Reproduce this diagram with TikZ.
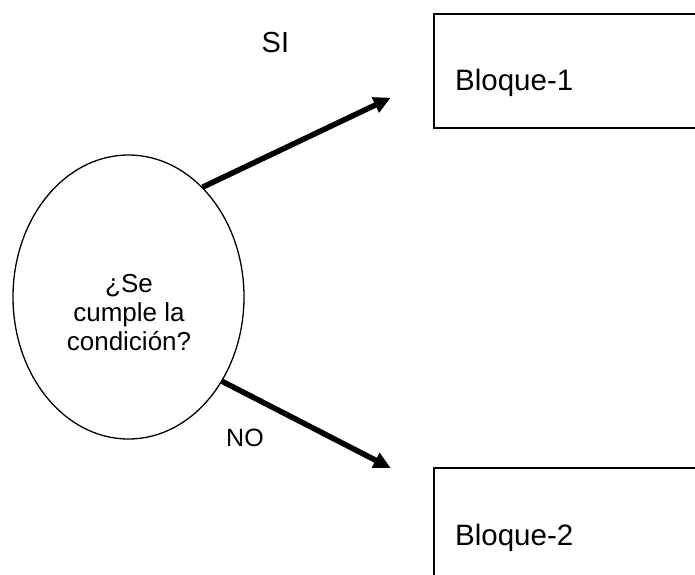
\documentclass[tikz,border=0pt]{standalone}
\usepackage{fontspec}
\setmainfont{Liberation Sans}
\usetikzlibrary{arrows.meta,shapes.geometric}
\tikzset{
  decision/.style={ellipse, draw=black, line width=1.3pt, minimum width=231pt, minimum height=284pt, inner sep=0pt},
  block/.style={rectangle, draw=black, line width=1.8pt, minimum width=290pt, minimum height=114pt, anchor=north west, inner sep=0pt},
  flow/.style={line width=5.5pt, -{Triangle[length=17pt,width=16pt]}},
  lbl/.style={inner sep=0pt, anchor=base west}
}
\begin{document}
\begin{tikzpicture}[x=1pt,y=-1pt]
\useasboundingbox (0,0) rectangle (695,574);
\clip (0,0) rectangle (695,574);
\node[decision] (cond) at (128.5,297) {};
\node[inner sep=0pt, align=center, anchor=base, font=\fontsize{26}{29}\selectfont] (ctext) at (129,350.7) {¿Se\\cumple la\\condición?};
\node[block] (b1) at (433,12.7) {};
\node[block] (b2) at (433,467) {};
\node[lbl, font=\fontsize{29.5}{32}\selectfont] (t1) at (455,90.7) {Bloque-1};
\node[lbl, font=\fontsize{29.5}{32}\selectfont] (t2) at (455,545) {Bloque-2};
\node[lbl, font=\fontsize{29}{32}\selectfont] (si) at (261.5,52.3) {SI};
\node[lbl, font=\fontsize{25}{28}\selectfont] (no) at (226,446) {NO};
\coordinate (e1) at (390.7,97.7);
\coordinate (e2) at (390.7,468);
\draw[flow] (cond.56.6) -- (e1);
\draw[flow] (cond.-42) -- (e2);
\end{tikzpicture}
\end{document}
